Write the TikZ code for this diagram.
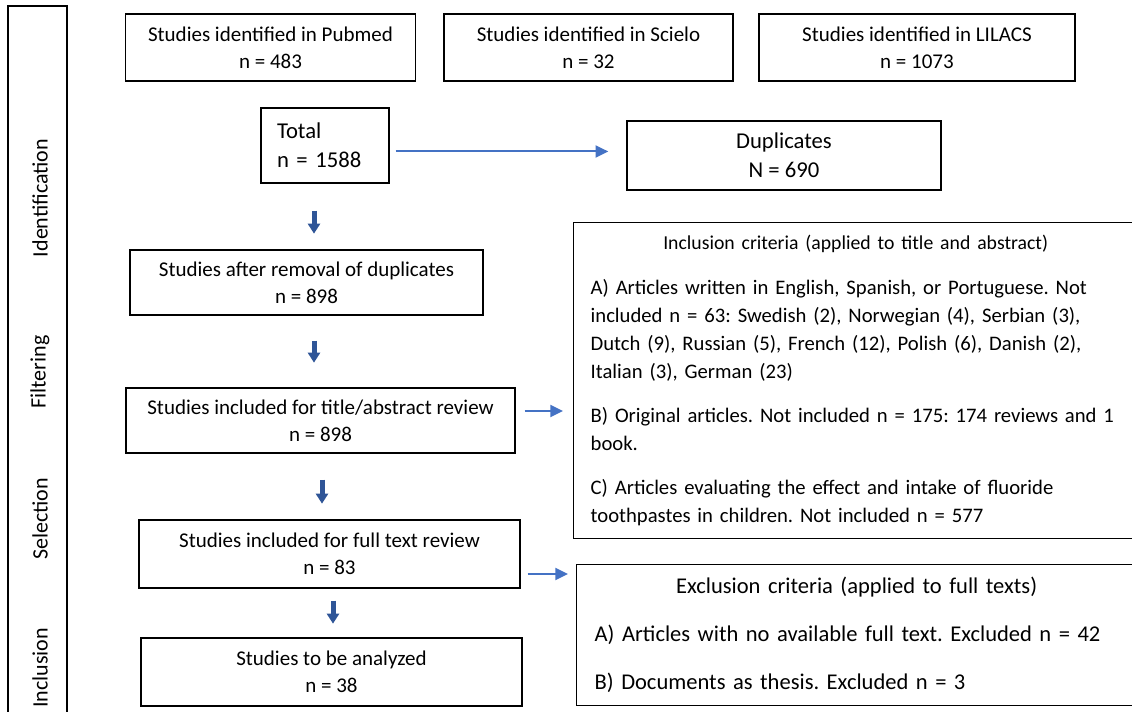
\documentclass[tikz,border=0pt]{standalone}
\usepackage{fontspec}
\setmainfont{Carlito}
\usetikzlibrary{arrows.meta}

\definecolor{linkblue}{HTML}{4472C4}
\definecolor{blkblue}{HTML}{2F5597}

\newcommand{\fsmall}{\fontsize{15.75pt}{20.25pt}\selectfont}
\newcommand{\fbig}{\fontsize{17pt}{21.75pt}\selectfont}
\newcommand{\fhead}{\fontsize{14.8pt}{20pt}\selectfont}
\newcommand{\fbody}{\fontsize{15.5pt}{21pt}\selectfont}
\newcommand{\fexcl}{\fontsize{16.9pt}{36pt}\selectfont}
\newcommand{\fstage}{\fontsize{16.5pt}{20pt}\selectfont}

\tikzset{
  sbox/.style 2 args={draw, line width=1pt, minimum width=#1*0.75pt,
    minimum height=#2*0.75pt, inner sep=0pt, align=center, font=\fsmall},
  link/.style={draw=linkblue, line width=1.5pt, -{Triangle[width=9pt,length=9.5pt]}},
  blk/.style={draw=blkblue, line width=3.75pt, -{Triangle[width=9pt,length=7.5pt]}},
  stage/.style={rotate=90, font=\fstage},
}

\begin{document}
\frenchspacing
\begin{tikzpicture}[x=0.75pt,y=-0.75pt]
  \path[use as bounding box, clip] (0,0) rectangle (1132,712);

  % 段階の帯
  \draw[line width=1pt] (8,6) rectangle (67,730);
  \node[stage] (sid) at (40,198) {Identification};
  \node[stage] (sfi) at (40,372) {Filtering};
  \node[stage] (sse) at (40,519) {Selection};
  \node[stage] (sin) at (40,668) {Inclusion};

  % データベース
  \node[sbox={290}{67}] (pubmed) at (270.5,47.5) {Studies identified in Pubmed\\ n = 483};
  \node[sbox={289}{67}] (scielo) at (588.5,47.5) {Studies identified in Scielo\\ n = 32};
  \node[sbox={316}{67}] (lilacs) at (917,47.5) {Studies identified in LILACS\\ n = 1073};

  % 合計と重複
  \node[sbox={128}{75}, align=left, font=\fbig, text width=72pt] (total) at (325,145.5) {Total\\ n = 1588};
  \node[sbox={314}{69}, font=\fbig] (dup) at (784,155.5) {Duplicates\\ N = 690};

  % 流れの各段階
  \node[sbox={353}{65}] (after) at (306.5,282.5) {Studies after removal of duplicates\\ n = 898};
  \node[sbox={389}{65}] (ttl) at (320.5,420.5) {Studies included for title/abstract review\\ n = 898};
  \node[sbox={381}{68}] (full) at (329.5,554) {Studies included for full text review\\ n = 83};
  \node[sbox={381}{68}] (anl) at (331.5,672) {Studies to be analyzed\\ n = 38};

  % 採用基準
  \node[draw, line width=1pt, anchor=north west, inner xsep=17*0.75pt, inner ysep=0pt,
        minimum height=316*0.75pt, text width=530*0.75pt, font=\fbody] (incl) at (573,222) {%
    {\centering\fhead Inclusion criteria (applied to title and abstract)\par}
    \vspace{12.75pt}\raggedright
    A) Articles written in English, Spanish, or Portuguese. Not\\
    included n = 63: Swedish (2), Norwegian (4), Serbian (3),\\
    Dutch (9), Russian (5), French (12), Polish (6), Danish (2),\\
    Italian (3), German (23)\par\vspace{12pt}
    B) Original articles. Not included n = 175: 174 reviews and 1\\
    book.\par\vspace{12pt}
    C) Articles evaluating the effect and intake of fluoride\\
    toothpastes in children. Not included n = 577};

  % 除外基準
  \node[draw, line width=1pt, anchor=north west, inner xsep=18*0.75pt, inner ysep=0pt,
        minimum height=141*0.75pt, text width=524*0.75pt, font=\fexcl] (excl) at (576,564) {%
    {\centering Exclusion criteria (applied to full texts)\par}
    \raggedright
    A) Articles with no available full text. Excluded n = 42\par
    B) Documents as thesis. Excluded n = 3};

  % 横の矢印
  \draw[link, shorten >=18*0.75pt] ([shift={(6,6)}]total.east) coordinate (h1) -- (h1 -| dup.west);
  \draw[link, shorten >=10*0.75pt] ([shift={(9,-9.5)}]ttl.east) coordinate (h2) -- (h2 -| incl.west);
  \draw[link, shorten >=8*0.75pt] ([shift={(7,20)}]full.east) coordinate (h3) -- (h3 -| excl.west);

  % 下向きの矢印
  \draw[blk] ([shift={(-11,27)}]total.south) -- ++(0,23);
  \draw[blk] ([shift={(7.5,25)}]after.south) -- ++(0,22);
  \draw[blk] ([shift={(1.5,26)}]ttl.south) -- ++(0,24);
  \draw[blk] ([shift={(3.5,12)}]full.south) -- ++(0,23);
\end{tikzpicture}
\end{document}
